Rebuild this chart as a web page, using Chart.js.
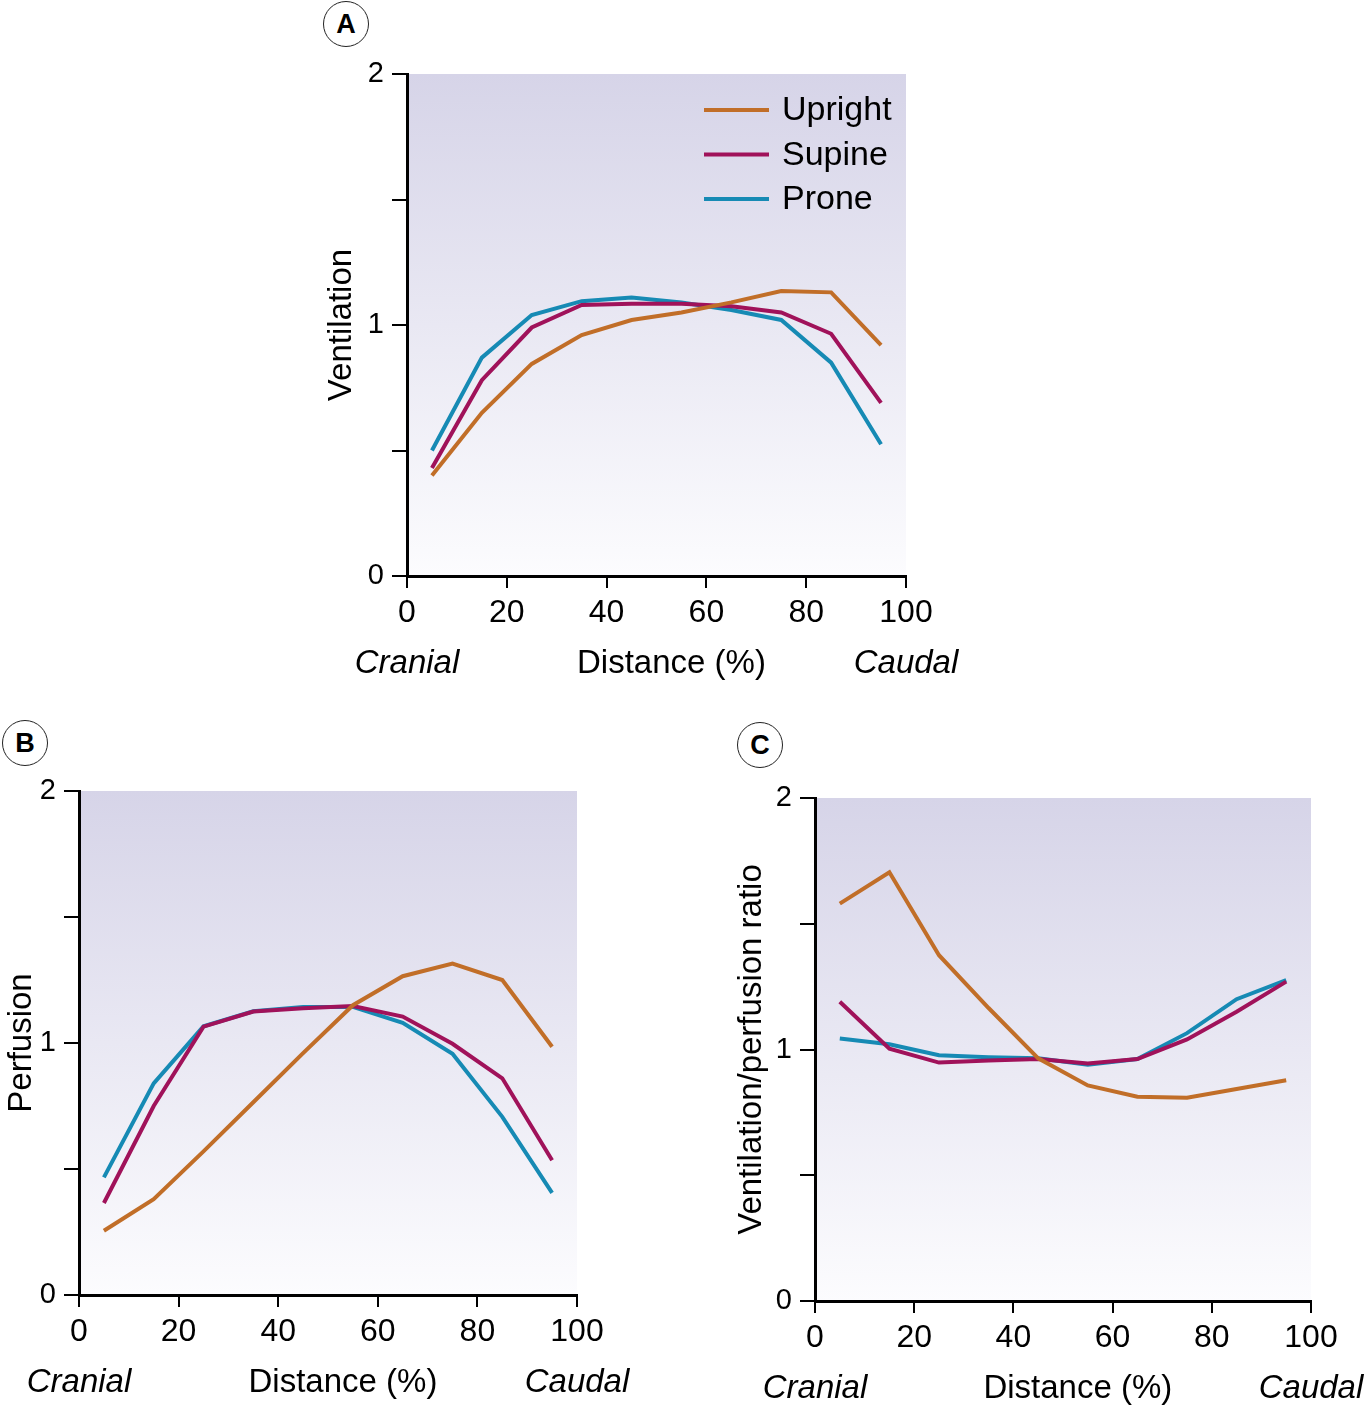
<!DOCTYPE html>
<html>
<head>
<meta charset="utf-8">
<script src="https://cdn.jsdelivr.net/npm/chart.js@4/dist/chart.umd.min.js"></script>
<style>
  body { margin: 0; background: #fff; }
  #page { position: relative; width: 1367px; height: 1408px; font-family: "Liberation Sans", Arial, sans-serif; }
  .box { position: absolute; }
  .tag {
    position: absolute; width: 44px; height: 44px; border: 1.5px solid #222; border-radius: 50%;
    font: bold 27px "Liberation Sans", Arial, sans-serif; text-align: center; line-height: 44px; color: #000;
    background: #fff;
  }
</style>
</head>
<body>
<div id="page">
  <div class="box" style="left:300px;top:0;width:700px;height:700px"><canvas id="chartA"></canvas></div>
  <div class="box" style="left:0;top:720px;width:660px;height:688px"><canvas id="chartB"></canvas></div>
  <div class="box" style="left:700px;top:720px;width:667px;height:688px"><canvas id="chartC"></canvas></div>
  <div class="tag" style="left:323px;top:1px">A</div>
  <div class="tag" style="left:2px;top:720px">B</div>
  <div class="tag" style="left:737px;top:722px">C</div>
</div>
<script>
const distance = [5, 15, 25, 35, 45, 55, 65, 75, 85, 95];
const seriesNames = ['Upright', 'Supine', 'Prone'];
const colors = ['#c16e28', '#a0125a', '#168ab4'];

// Panel A - ventilation
const ventUpright = [0.40, 0.65, 0.845, 0.96, 1.02, 1.05, 1.09, 1.135, 1.13, 0.92];
const ventSupine = [0.43, 0.78, 0.99, 1.08, 1.085, 1.085, 1.075, 1.05, 0.965, 0.69];
const ventProne = [0.50, 0.87, 1.04, 1.095, 1.11, 1.09, 1.06, 1.02, 0.85, 0.525];

// Panel B - perfusion
const perfUpright = [0.255, 0.38, 0.57, 0.765, 0.96, 1.15, 1.265, 1.315, 1.25, 0.985];
const perfSupine = [0.365, 0.75, 1.065, 1.125, 1.138, 1.147, 1.105, 0.997, 0.86, 0.535];
const perfProne = [0.467, 0.84, 1.066, 1.126, 1.143, 1.143, 1.08, 0.957, 0.707, 0.405];

// Panel C - ventilation/perfusion ratio
const ratioUpright = [1.58, 1.705, 1.375, 1.165, 0.965, 0.857, 0.812, 0.808, 0.843, 0.878];
const ratioSupine = [1.19, 1.003, 0.948, 0.956, 0.962, 0.944, 0.962, 1.04, 1.15, 1.27];
const ratioProne = [1.044, 1.021, 0.977, 0.969, 0.965, 0.939, 0.962, 1.065, 1.20, 1.276];

const xTicks = [0, 20, 40, 60, 80, 100];
const yMax = 2;
const FONT = '"Liberation Sans", Arial, sans-serif';

// Gradient fill behind the plot area
const bgPlugin = {
    id: 'bgGradient',
    beforeDraw(chart) {
        const { ctx, chartArea: a } = chart;
        const g = ctx.createLinearGradient(0, a.top, 0, a.bottom);
        g.addColorStop(0, '#d6d4e8');
        g.addColorStop(1, '#fcfcfe');
        ctx.save();
        ctx.fillStyle = g;
        ctx.fillRect(a.left, a.top, a.right - a.left, a.bottom - a.top);
        ctx.restore();
    }
};

// Cranial / Distance (%) / Caudal line under the x axis
const bottomLabels = {
    id: 'bottomLabels',
    afterDraw(chart) {
        const { ctx, chartArea: a } = chart;
        const x = chart.scales.x;
        const y = a.bottom + 88;
        ctx.save();
        ctx.fillStyle = '#000';
        ctx.textAlign = 'center';
        ctx.textBaseline = 'middle';
        ctx.font = 'italic 33px ' + FONT;
        ctx.fillText('Cranial', x.getPixelForValue(0), y);
        ctx.fillText('Caudal', x.getPixelForValue(100), y);
        ctx.font = '33px ' + FONT;
        ctx.fillText('Distance (%)', x.getPixelForValue(53), y);
        ctx.restore();
    }
};

// Vertical legend in the top right of panel A
const legendPlugin = {
    id: 'sideLegend',
    afterDraw(chart, args, opts) {
        if (!opts.show) return;
        const { ctx, chartArea: a } = chart;
        ctx.save();
        ctx.font = '34px ' + FONT;
        ctx.textBaseline = 'middle';
        ctx.textAlign = 'left';
        chart.data.datasets.forEach((ds, i) => {
            const y = a.top + 36 + i * 44.5;
            ctx.strokeStyle = ds.borderColor;
            ctx.lineWidth = 4;
            ctx.beginPath();
            ctx.moveTo(a.left + 297, y);
            ctx.lineTo(a.left + 362, y);
            ctx.stroke();
            ctx.fillStyle = '#000';
            ctx.fillText(ds.label, a.left + 375, y + 1);
        });
        ctx.restore();
    }
};

function makeChart(id, yTitle, values, lay) {
    const datasets = values.map((vals, i) => ({
        label: seriesNames[i],
        data: distance.map((d, j) => ({ x: d, y: vals[j] })),
        borderColor: colors[i],
        backgroundColor: colors[i],
        borderWidth: 4,
        pointRadius: 0,
        tension: 0,
        fill: false
    }));
    return new Chart(document.getElementById(id), {
        type: 'line',
        data: { datasets },
        plugins: [bgPlugin, bottomLabels, legendPlugin],
        options: {
            responsive: true,
            maintainAspectRatio: false,
            animation: false,
            layout: { padding: { top: lay.top, right: lay.right, left: 0, bottom: 0 } },
            plugins: {
                legend: { display: false },
                tooltip: { enabled: false },
                sideLegend: { show: lay.legend }
            },
            scales: {
                x: {
                    type: 'linear',
                    min: 0,
                    max: 100,
                    afterBuildTicks: (s) => { s.ticks = xTicks.map(v => ({ value: v })); },
                    afterFit: (s) => { s.height = lay.xh; },
                    border: { display: true, color: '#000', width: 3 },
                    grid: { drawOnChartArea: false, color: '#000', lineWidth: 2, tickLength: 12 },
                    ticks: { color: '#000', font: { size: 32, family: FONT }, padding: 6, maxRotation: 0 }
                },
                y: {
                    min: 0,
                    max: yMax,
                    afterFit: (s) => { s.width = lay.yw; },
                    border: { display: true, color: '#000', width: 3 },
                    grid: { drawOnChartArea: false, color: '#000', lineWidth: 2, tickLength: 15 },
                    ticks: {
                        stepSize: 0.5,
                        color: '#000',
                        font: { size: 29, family: FONT },
                        padding: 8,
                        callback: (v) => Number.isInteger(v) ? String(v) : ''
                    },
                    title: {
                        display: true,
                        text: yTitle,
                        color: '#000',
                        font: { size: 33, family: FONT },
                        padding: { top: lay.tp, bottom: 0 }
                    }
                }
            }
        }
    });
}

makeChart('chartA', 'Ventilation', [ventUpright, ventSupine, ventProne],
    { top: 74, right: 94, xh: 124, yw: 107, tp: 22, legend: true });
makeChart('chartB', 'Perfusion', [perfUpright, perfSupine, perfProne],
    { top: 71, right: 83, xh: 113, yw: 79, tp: 2, legend: false });
makeChart('chartC', 'Ventilation/perfusion ratio', [ratioUpright, ratioSupine, ratioProne],
    { top: 78, right: 56, xh: 107, yw: 115, tp: 32, legend: false });
</script>
</body>
</html>
